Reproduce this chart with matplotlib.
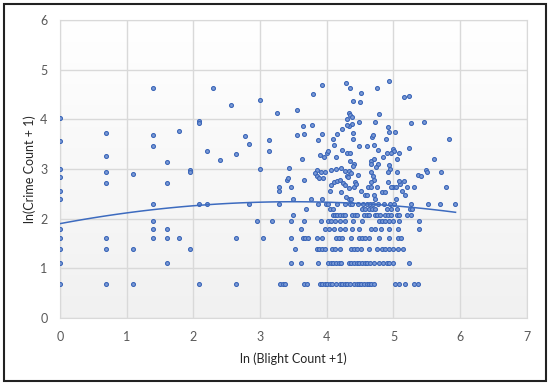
import numpy as np
import matplotlib
matplotlib.use("Agg")
import matplotlib.pyplot as plt
from matplotlib.patches import Rectangle

plt.rcParams['font.family'] = ['Lato', 'DejaVu Sans']

# points that sit on the low crime levels, x = ln(blight+1) for each level
x_y069 = [0, 0.69, 1.10, 2.08, 2.64, 3.30, 3.34, 3.37, 3.66, 3.70, 3.90, 3.93, 3.97, 4.01,
          4.05, 4.08, 4.14, 4.20, 4.23, 4.27, 4.31, 4.35, 4.41, 4.45, 4.48, 4.52, 4.56,
          4.60, 4.64, 4.67, 4.71, 5.03, 5.08, 5.18, 5.31, 5.36]
x_y110 = [0, 1.61, 3.47, 3.61, 3.87, 4.02, 4.06, 4.10, 4.14, 4.18, 4.22, 4.33, 4.37, 4.41,
          4.45, 4.49, 4.53, 4.57, 4.61, 4.65, 4.71, 4.78, 4.85, 4.90, 4.94, 4.99, 5.23]
x_y139 = [0, 0.69, 1.10, 1.95, 3.52, 3.85, 3.89, 3.93, 3.97, 4.08, 4.13, 4.20, 4.36, 4.41,
          4.46, 4.51, 4.63, 4.75, 4.83, 4.88, 4.94, 4.99, 5.07, 5.15]
x_y161 = [0, 0.69, 1.39, 1.61, 1.79, 2.64, 3.05, 3.47, 3.64, 3.68, 3.72, 3.85, 3.93, 4.14,
          4.18, 4.23, 4.37, 4.48, 4.53, 4.58, 4.63, 4.78, 4.94, 5.07, 5.12]
x_y179 = [0, 1.39, 1.61, 3.61, 3.98, 4.03, 4.11, 4.20, 4.28, 4.38, 4.48, 4.67, 4.72, 4.81,
          4.94, 5.07, 5.38]
x_y195 = [1.39, 2.95, 3.18, 3.47, 3.66, 3.91, 4.02, 4.07, 4.12, 4.20, 4.27, 4.40, 4.53, 4.78,
          4.83, 4.88, 4.94, 4.99, 5.08, 5.38]
x_y208 = [3.49, 4.10, 4.12, 4.16, 4.20, 4.24, 4.28, 4.38, 4.42, 4.46, 4.56, 4.60, 4.64, 4.72,
          4.76, 4.80, 4.88, 4.92, 4.96, 5.05, 5.08, 5.20, 5.27]
x_y220 = [3.69, 4.05, 4.10, 4.53, 4.58, 4.63, 4.68, 4.72, 4.90, 4.97, 5.05, 5.25, 5.28]
x_y230 = [1.39, 2.08, 2.20, 2.83, 3.29, 3.87, 3.99, 4.02, 4.15, 4.27, 4.35, 4.38, 4.47, 4.55,
          4.60, 4.65, 4.70, 4.77, 4.86, 4.95, 5.01, 5.27, 5.51, 5.70, 5.92]
x_y240 = [0, 3.50, 3.77, 3.93, 4.33, 4.37, 4.72, 5.04]
levels = [0.693, 1.099, 1.386, 1.609, 1.792, 1.946, 2.079, 2.197, 2.303, 2.398]

# the rest of the points (higher crime counts)
upper_x = [0, 0, 0, 0, 0, 0.69, 0.69, 0.69, 0.69, 1.10, 1.39, 1.39, 1.39, 1.61, 1.61, 1.79,
           1.95, 1.95, 2.08, 2.08, 2.20, 2.30, 2.40, 2.56, 2.64, 2.77, 2.83, 3.00, 3.00, 3.13, 3.13,
           3.25, 3.55, 3.93, 3.80, 4.29, 4.35, 4.52, 4.75, 4.93, 5.16, 5.23,
           4.39, 4.50, 4.33, 4.35, 4.38, 4.79, 4.30, 4.38, 4.33, 4.49, 4.72, 4.92, 4.93, 5.02,
           5.26, 5.46, 5.83,
           3.64, 3.78, 3.55, 3.66, 3.93, 3.87, 4.16, 4.23, 4.30, 4.09, 4.11, 4.39, 4.39, 4.68,
           4.69, 4.60, 4.71, 4.89, 4.48, 4.23, 4.77, 5.00, 5.01, 5.23, 5.08, 4.91, 4.96, 4.84, 5.05,
           3.90, 3.96, 4.01, 4.02, 4.31, 4.35, 4.14, 3.63, 3.43,
           4.35, 4.41, 4.39, 4.66, 4.66, 4.71, 4.77, 4.74, 4.94, 4.95, 4.92,
           4.06, 4.14, 4.21, 3.86, 3.83, 3.85, 3.92, 3.97, 3.89, 3.94,
           4.28, 4.34, 4.36, 4.30, 4.32, 4.47, 4.67, 4.70, 4.71, 4.67, 4.92, 5.05, 5.36, 5.41,
           5.48, 5.50, 5.60, 5.71, 5.78,
           3.40, 3.42, 3.29, 3.29, 3.46, 3.66,
           4.05, 4.06, 4.11, 4.15, 4.20, 4.25, 4.28, 4.34, 4.41, 4.42, 4.44,
           4.62, 4.67, 4.75, 5.00, 5.10, 5.16, 5.13, 5.21, 5.31,
           4.51, 4.57, 4.61, 4.71, 4.83, 4.87, 4.21, 4.29, 5.18, 4.97, 5.04, 5.09]
upper_y = [4.03, 3.56, 3.00, 2.83, 2.56, 3.72, 3.26, 2.94, 2.71, 2.89, 4.64, 3.69, 3.47, 3.14, 2.71, 3.76,
           2.99, 2.94, 3.97, 3.93, 3.36, 4.63, 3.18, 4.28, 3.30, 3.66, 3.50, 4.38, 3.00, 3.58, 3.36,
           4.13, 4.19, 4.69, 4.51, 4.73, 4.64, 4.53, 4.63, 4.78, 4.45, 4.48,
           4.36, 4.35, 4.13, 4.08, 4.04, 4.10, 4.00, 3.90, 3.86, 3.94, 3.94, 3.84, 3.75, 3.75,
           3.92, 3.94, 3.60,
           3.86, 3.88, 3.68, 3.70, 3.70, 3.58, 3.70, 3.80, 3.88, 3.60, 3.48, 3.73, 3.60, 3.65,
           3.69, 3.46, 3.49, 3.60, 3.46, 3.39, 3.39, 3.41, 3.37, 3.43, 3.32, 3.32, 3.33, 3.25, 3.21,
           3.28, 3.25, 3.33, 3.36, 3.33, 3.33, 3.25, 3.21, 3.03,
           3.16, 3.11, 3.07, 3.16, 3.11, 3.21, 3.11, 3.04, 3.08, 3.01, 2.93,
           2.99, 3.00, 3.03, 2.98, 2.92, 2.86, 2.93, 2.93, 2.82, 2.82,
           2.96, 2.96, 2.92, 2.86, 2.83, 2.88, 2.93, 2.86, 2.77, 2.74, 2.74, 2.93, 2.88, 2.85,
           2.98, 2.93, 3.21, 2.93, 2.63,
           2.77, 2.82, 2.63, 2.56, 2.63, 2.77,
           2.56, 2.67, 2.74, 2.76, 2.77, 2.71, 2.67, 2.61, 2.63, 2.74, 2.69,
           2.63, 2.63, 2.63, 2.63, 2.69, 2.75, 2.56, 2.63, 2.63,
           2.55, 2.47, 2.47, 2.48, 2.54, 2.54, 2.53, 2.44, 2.47, 2.63, 2.63, 2.75]

# polynomial trendline (order 2)
trend_coef = [-0.036, 0.252, 1.90]
trend_xmax = 5.93

rows = [x_y069, x_y110, x_y139, x_y161, x_y179, x_y195, x_y208, x_y220, x_y230, x_y240]
xs = np.concatenate([np.array(r) for r in rows] + [np.array(upper_x)])
ys = np.concatenate([np.full(len(r), lv) for r, lv in zip(rows, levels)] + [np.array(upper_y)])

fig = plt.figure(figsize=(5.5, 3.85), dpi=100)
ax = fig.add_axes([0.109, 0.174, 0.849, 0.774])

# faint Excel-like gradient in the plot area
grad = np.linspace(0, 1, 256).reshape(-1, 1)
ax.imshow(grad, extent=[0, 7, 0, 6], aspect='auto', cmap=matplotlib.colors.LinearSegmentedColormap.from_list(
    'g', ['#f1f1f1', '#ffffff']), origin='lower', zorder=0)

ax.scatter(xs, ys, s=8, facecolor='#7b9ad6', edgecolor='#3b66b8', linewidth=0.8, zorder=3)

tx = np.linspace(0, trend_xmax, 100)
ax.plot(tx, np.polyval(trend_coef, tx), color='#3d6bbf', lw=1.1, zorder=4)

ax.set_xlim(0, 7)
ax.set_ylim(0, 6)
ax.set_xticks(range(0, 8))
ax.set_yticks(range(0, 7))
ax.grid(True, color='#d9d9d9', lw=1, zorder=1)
ax.set_axisbelow(True)
for s in ax.spines.values():
    s.set_color('#d9d9d9')
ax.tick_params(length=0, labelsize=9, labelcolor='#595959', pad=9)

ax.set_xlabel('ln (Blight Count +1)', fontsize=9, color='#262626', labelpad=7)
ax.set_ylabel('ln(Crime Count + 1)', fontsize=9, color='#262626', labelpad=3)

fig.patches.append(Rectangle((4 / 550, 4 / 385), 542 / 550, 377 / 385, transform=fig.transFigure,
                             fill=False, edgecolor='#222222', lw=1.5))

fig.savefig('out.png', dpi=100)
